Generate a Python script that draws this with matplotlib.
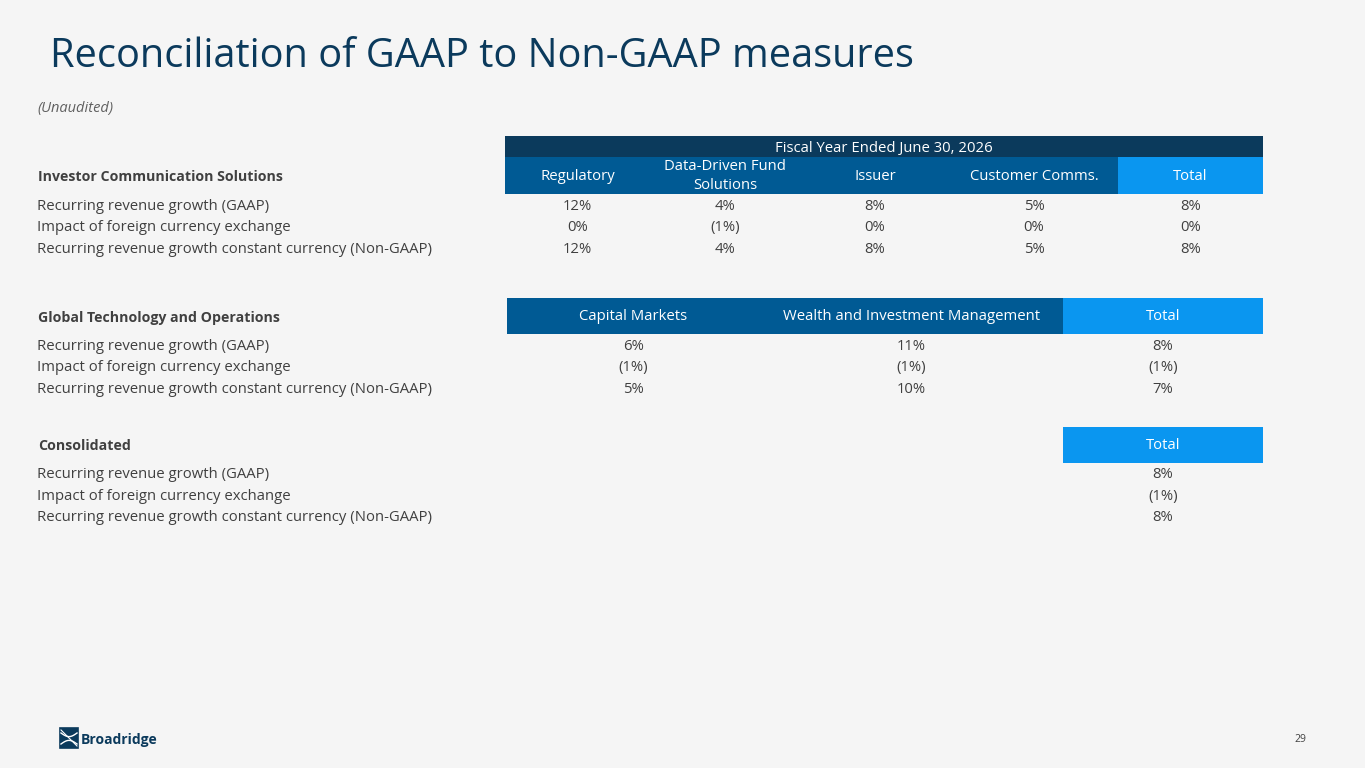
import matplotlib.pyplot as plt
import matplotlib.patches as mpatches
import numpy as np

# data
row_labels = ["Recurring revenue growth (GAAP)",
              "Impact of foreign currency exchange",
              "Recurring revenue growth constant currency (Non-GAAP)"]

ics_title = "Investor Communication Solutions"
ics_cols = ["Regulatory", "Data-Driven Fund\nSolutions", "Issuer", "Customer Comms.", "Total"]
ics_gaap = ["12%", "4%", "8%", "5%", "8%"]
ics_fx = ["0%", "(1%)", "0%", "0%", "0%"]
ics_cc = ["12%", "4%", "8%", "5%", "8%"]

gto_title = "Global Technology and Operations"
gto_cols = ["Capital Markets", "Wealth and Investment Management", "Total"]
gto_gaap = ["6%", "11%", "8%"]
gto_fx = ["(1%)", "(1%)", "(1%)"]
gto_cc = ["5%", "10%", "7%"]

cons_title = "Consolidated"
cons_cols = ["Total"]
cons_gaap = ["8%"]
cons_fx = ["(1%)"]
cons_cc = ["8%"]

period = "Fiscal Year Ended June 30, 2026"

# colours
BG = "#f5f5f5"
NAVY = "#0b3a5c"
MID = "#005a94"
LIGHT = "#0a96f0"
TXT = "#404040"

plt.rcParams['font.family'] = ['Open Sans', 'DejaVu Sans']

fig = plt.figure(figsize=(13.65, 7.68), dpi=100, facecolor=BG)
ax = fig.add_axes([0, 0, 1, 1])
ax.set_xlim(0, 1365)
ax.set_ylim(768, 0)
ax.axis('off')
ax.set_facecolor(BG)

BODY = 10.7
BOLD = 10.2
BASE = 5  # offset from row centre to text baseline, px


def header_row(edges, labels, y0, y1, total_last=True):
    for i, lab in enumerate(labels):
        c = LIGHT if (total_last and i == len(labels) - 1) else MID
        ax.add_patch(mpatches.Rectangle((edges[i], y0), edges[i + 1] - edges[i], y1 - y0,
                                        facecolor=c, edgecolor='none'))
        ax.text((edges[i] + edges[i + 1]) / 2, (y0 + y1) / 2 + 0.5, lab, color='white',
                fontsize=BODY, ha='center', va='center', linespacing=1.3)


def section(title, ty, edges, cols, rows, ys, hy0, hy1):
    ax.text(38, ty + BASE, title, fontsize=BOLD, fontweight='bold', color=TXT, va='baseline')
    header_row(edges, cols, hy0, hy1)
    for lab, y, vals in zip(row_labels, ys, rows):
        ax.text(37, y + BASE, lab, fontsize=BODY, color=TXT, va='baseline')
        for i, v in enumerate(vals):
            ax.text((edges[i] + edges[i + 1]) / 2, y + BASE, v, fontsize=BODY, color=TXT,
                    ha='center', va='baseline')


# title
ax.text(50, 57, "Reconciliation of GAAP to Non-GAAP measures", fontsize=28.6,
        color=NAVY, va='center')
ax.text(37, 107 + BASE, "(Unaudited)", fontsize=10.5, style='italic', color='#606060',
        va='baseline')

# table 1
ics_edges = [505, 650, 800, 950, 1118, 1263]
ax.add_patch(mpatches.Rectangle((505, 136), 758, 21, facecolor=NAVY, edgecolor='none'))
ax.text((505 + 1263) / 2, 147 + BASE, period, color='white', fontsize=BODY,
        ha='center', va='baseline')
section(ics_title, 176, ics_edges, ics_cols, [ics_gaap, ics_fx, ics_cc],
        [205, 226, 248], 157, 194)

# table 2
gto_edges = [507, 760, 1063, 1263]
section(gto_title, 317, gto_edges, gto_cols, [gto_gaap, gto_fx, gto_cc],
        [345, 366, 388], 298, 334)

# table 3
cons_edges = [1063, 1263]
section(cons_title, 445, cons_edges, cons_cols, [cons_gaap, cons_fx, cons_cc],
        [473, 495, 516], 427, 463)

# footer: logo and page number
ax.add_patch(mpatches.Rectangle((60, 728), 18, 20, facecolor=NAVY, edgecolor='none'))
t = np.linspace(0, 1, 30)
ax.plot(61 + 16 * t, 733 + 6 * np.sin(np.pi * t) * 0.6, color='white', lw=1.0)
ax.plot(61 + 16 * t, 744 - 6 * np.sin(np.pi * t) * 0.6, color='white', lw=1.0)
ax.plot([61, 77], [730, 746], color='white', lw=0.8)
ax.add_patch(mpatches.Rectangle((60, 728), 18, 20, facecolor='none', edgecolor=NAVY, lw=1.2))
ax.text(81, 739 + BASE, "Broadridge", fontsize=10, fontweight='bold', color=NAVY,
        va='baseline')
ax.text(1300, 739 + 3, "29", fontsize=7.5, color=TXT, ha='center', va='baseline')

fig.savefig("out.png", dpi=100, facecolor=BG)
